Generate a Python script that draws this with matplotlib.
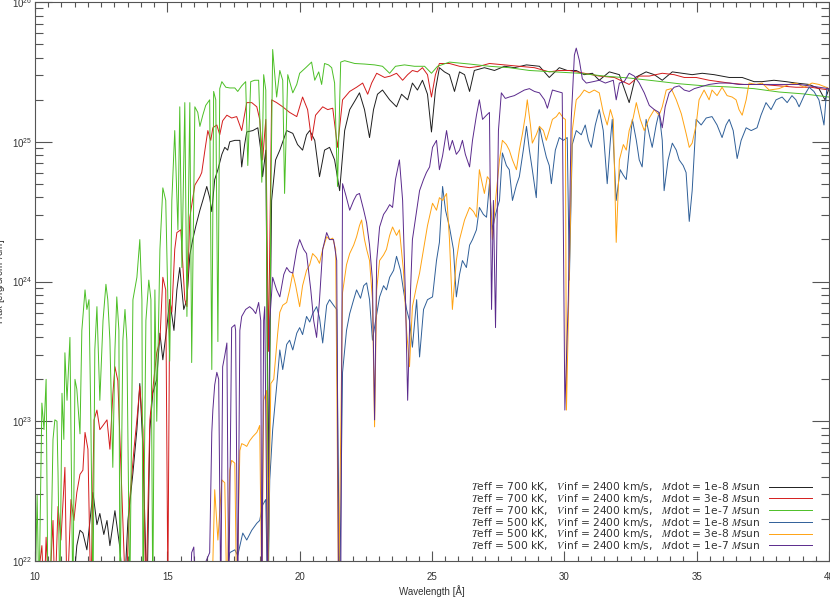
import numpy as np
import matplotlib
matplotlib.use("Agg")
import matplotlib.pyplot as plt
from matplotlib.ticker import MultipleLocator, LogLocator, NullFormatter

# spectra: (wavelength [A], log10 flux)
black_pts = [
    (10.00, 21.70), (11.40, 21.70), (11.58, 22.11), (11.70, 22.22), (11.81, 22.20), (11.96, 22.08),
    (12.19, 22.49), (12.34, 22.26), (12.45, 22.34), (12.60, 22.19), (12.72, 22.29), (12.83, 22.11),
    (13.02, 22.36), (13.21, 22.09), (13.36, 21.70), (13.51, 22.29), (13.70, 22.63), (13.85, 22.94),
    (13.96, 23.27), (14.08, 22.80), (14.23, 21.70), (14.34, 22.94), (14.45, 23.20), (14.60, 23.30),
    (14.72, 23.63), (14.83, 23.44), (14.98, 23.67), (15.09, 23.87), (15.25, 23.65), (15.36, 23.94),
    (15.47, 24.10), (15.62, 23.80), (15.74, 23.87), (15.85, 24.19), (15.96, 24.30), (16.08, 24.40),
    (16.23, 24.51), (16.34, 24.58), (16.49, 24.68), (16.60, 24.60), (16.68, 24.50), (16.79, 24.73),
    (16.91, 24.80), (17.06, 24.91), (17.17, 24.96), (17.28, 24.94), (17.36, 25.00), (17.55, 25.01),
    (17.74, 25.01), (17.81, 24.82), (17.92, 24.98), (18.00, 25.07), (18.23, 25.08), (18.42, 25.10),
    (18.53, 24.94), (18.60, 24.75), (18.72, 24.94), (18.82, 22.60), (18.94, 24.58), (19.09, 24.87),
    (19.25, 24.94), (19.51, 25.08), (19.74, 25.06), (19.92, 24.98), (20.11, 24.94), (20.26, 25.05),
    (20.38, 25.08), (20.57, 25.01), (20.75, 24.75), (20.94, 24.94), (21.13, 24.96), (21.32, 24.87),
    (21.51, 24.65), (21.70, 25.08), (21.89, 25.23), (22.11, 25.30), (22.26, 25.35), (22.45, 25.23),
    (22.64, 25.03), (22.79, 25.23), (22.94, 25.34), (23.13, 25.37), (23.40, 25.30), (23.66, 25.25),
    (23.85, 25.34), (24.08, 25.30), (24.26, 25.42), (24.45, 25.37), (24.64, 25.44), (24.83, 25.34),
    (24.98, 25.07), (25.13, 25.37), (25.28, 25.53), (25.47, 25.50), (25.66, 25.48), (25.85, 25.36),
    (26.04, 25.50), (26.23, 25.48), (26.42, 25.36), (26.60, 25.51), (26.98, 25.53), (27.36, 25.51),
    (27.74, 25.54), (28.11, 25.53), (28.57, 25.55), (29.06, 25.54), (29.43, 25.46), (29.81, 25.53),
    (30.11, 25.51), (30.45, 25.51), (30.75, 25.48), (31.06, 25.49), (31.32, 25.44), (31.70, 25.50),
    (32.08, 25.48), (32.45, 25.28), (32.68, 25.46), (33.09, 25.50), (33.40, 25.48), (33.70, 25.44),
    (34.08, 25.50), (34.45, 25.49), (34.83, 25.48), (35.21, 25.49), (35.66, 25.48), (36.23, 25.46),
    (36.72, 25.46), (37.17, 25.43), (37.47, 25.43), (37.92, 25.44), (38.38, 25.43), (38.75, 25.42),
    (39.25, 25.41), (39.62, 25.38), (39.85, 25.30), (40.00, 25.38),
]

red_pts = [
    (10.00, 21.70), (10.26, 22.11), (10.34, 21.70), (10.42, 22.17), (10.53, 21.70), (10.68, 22.29),
    (10.75, 21.70), (10.87, 22.39), (10.98, 22.15), (11.13, 22.67), (11.21, 21.70), (11.36, 22.44),
    (11.47, 22.29), (11.58, 22.49), (11.70, 22.62), (11.81, 22.65), (11.89, 22.92), (12.00, 22.80),
    (12.11, 21.70), (12.23, 23.01), (12.34, 23.08), (12.45, 22.94), (12.57, 22.97), (12.72, 23.01),
    (12.83, 22.80), (12.94, 23.19), (13.02, 23.39), (13.13, 23.29), (13.21, 22.87), (13.32, 22.31),
    (13.43, 21.70), (13.58, 22.44), (13.74, 22.80), (13.85, 23.01), (13.96, 23.25), (14.08, 22.94),
    (14.19, 21.70), (14.34, 23.01), (14.49, 23.30), (14.60, 23.49), (14.72, 23.58), (14.83, 24.03),
    (14.94, 23.94), (15.02, 21.80), (15.09, 23.87), (15.17, 23.78), (15.28, 24.23), (15.36, 24.35),
    (15.51, 24.37), (15.66, 23.87), (15.74, 23.82), (15.85, 24.46), (16.04, 24.69), (16.23, 24.75),
    (16.30, 24.78), (16.42, 24.94), (16.53, 25.08), (16.64, 25.01), (16.72, 25.10), (16.87, 25.12),
    (16.98, 25.05), (17.09, 25.15), (17.25, 25.19), (17.43, 25.17), (17.62, 25.18), (17.81, 25.08),
    (18.00, 25.28), (18.19, 25.28), (18.38, 25.25), (18.49, 25.16), (18.60, 24.87), (18.72, 25.16),
    (18.82, 23.50), (18.94, 25.30), (19.13, 25.28), (19.36, 25.25), (19.62, 25.21), (19.89, 25.18),
    (20.11, 25.32), (20.30, 25.23), (20.45, 25.01), (20.60, 25.19), (20.87, 25.25), (21.06, 25.23),
    (21.25, 25.24), (21.43, 24.96), (21.62, 25.30), (21.89, 25.36), (22.15, 25.39), (22.38, 25.42),
    (22.57, 25.34), (22.72, 25.42), (22.91, 25.49), (23.21, 25.46), (23.43, 25.47), (23.66, 25.49),
    (23.89, 25.44), (24.08, 25.48), (24.26, 25.51), (24.45, 25.50), (24.64, 25.53), (24.83, 25.48),
    (24.98, 25.32), (25.13, 25.48), (25.28, 25.56), (25.66, 25.56), (26.04, 25.54), (26.42, 25.53),
    (26.79, 25.54), (27.17, 25.56), (27.74, 25.55), (28.30, 25.54), (28.87, 25.53), (29.43, 25.50),
    (29.81, 25.51), (30.19, 25.51), (30.75, 25.49), (31.32, 25.47), (31.89, 25.46), (32.45, 25.41),
    (32.83, 25.47), (33.21, 25.47), (33.70, 25.49), (34.15, 25.48), (34.53, 25.46), (34.98, 25.46),
    (35.47, 25.44), (35.85, 25.43), (36.23, 25.42), (36.79, 25.41), (37.47, 25.41), (38.11, 25.40),
    (38.75, 25.39), (39.32, 25.39), (40.00, 25.37),
]

green_pts = [
    (10.00, 21.70), (10.08, 22.47), (10.15, 21.70), (10.26, 23.13), (10.34, 22.94), (10.42, 23.30),
    (10.49, 21.70), (10.57, 21.70), (10.68, 22.87), (10.75, 23.01), (10.83, 23.00), (10.87, 22.63),
    (10.94, 21.70), (11.02, 23.20), (11.09, 22.87), (11.13, 23.49), (11.21, 23.15), (11.32, 23.60),
    (11.43, 21.70), (11.51, 23.30), (11.58, 23.23), (11.70, 22.91), (11.77, 23.65), (11.89, 23.94),
    (11.96, 23.80), (12.04, 23.87), (12.11, 23.01), (12.19, 21.70), (12.26, 23.51), (12.34, 23.82),
    (12.45, 23.15), (12.57, 23.72), (12.68, 23.98), (12.75, 23.87), (12.83, 23.58), (12.94, 22.67),
    (13.02, 23.51), (13.09, 23.89), (13.17, 23.65), (13.21, 21.70), (13.32, 23.58), (13.40, 23.80),
    (13.47, 23.58), (13.58, 21.70), (13.70, 23.87), (13.85, 24.03), (13.96, 24.30), (14.04, 23.87),
    (14.08, 21.70), (14.19, 23.72), (14.30, 24.01), (14.38, 23.87), (14.45, 21.70), (14.53, 23.94),
    (14.60, 23.00), (14.72, 24.23), (14.83, 24.67), (14.94, 24.58), (15.02, 23.87), (15.09, 23.43),
    (15.17, 24.58), (15.28, 25.08), (15.40, 24.37), (15.47, 25.25), (15.55, 24.10), (15.66, 25.28),
    (15.74, 23.75), (15.85, 25.28), (15.92, 23.42), (16.04, 25.25), (16.15, 25.21), (16.23, 25.11),
    (16.34, 25.19), (16.45, 25.26), (16.60, 25.30), (16.68, 23.37), (16.75, 25.36), (16.83, 25.30),
    (16.91, 23.57), (16.98, 25.38), (17.06, 25.43), (17.21, 25.39), (17.36, 25.385), (17.55, 25.385),
    (17.66, 25.36), (17.81, 25.40), (17.96, 25.43), (18.04, 24.83), (18.15, 25.43), (18.30, 25.44),
    (18.45, 25.44), (18.57, 24.71), (18.64, 25.48), (18.72, 25.37), (18.82, 21.70), (18.91, 24.58),
    (18.98, 25.66), (19.13, 25.32), (19.25, 25.51), (19.36, 25.44), (19.43, 24.63), (19.55, 25.48),
    (19.74, 25.35), (19.89, 25.41), (20.00, 25.49), (20.23, 25.53), (20.45, 25.57), (20.57, 25.44),
    (20.72, 25.50), (20.83, 25.41), (20.94, 25.56), (21.09, 25.55), (21.21, 25.53), (21.32, 25.42),
    (21.43, 24.68), (21.55, 25.57), (21.70, 25.58), (22.08, 25.56), (22.45, 25.556), (22.83, 25.55),
    (23.13, 25.54), (23.40, 25.49), (23.62, 25.54), (23.96, 25.55), (24.34, 25.54), (24.72, 25.54),
    (24.98, 25.49), (25.21, 25.54), (25.66, 25.57), (26.42, 25.556), (27.17, 25.54), (27.92, 25.53),
    (28.68, 25.51), (29.62, 25.50), (30.57, 25.49), (31.51, 25.47), (32.45, 25.456), (33.40, 25.436),
    (34.34, 25.415), (35.28, 25.40), (36.23, 25.392), (37.17, 25.38), (38.11, 25.356), (39.06, 25.342),
    (40.00, 25.32),
]

blue_pts = [
    (15.50, 21.70), (17.06, 21.70), (17.36, 22.06), (17.55, 22.08), (17.66, 22.04), (17.85, 22.20),
    (18.00, 22.15), (18.19, 22.22), (18.38, 22.27), (18.49, 22.29), (18.60, 22.40), (18.72, 22.44),
    (18.79, 21.70), (18.87, 22.58), (18.98, 22.94), (19.13, 23.25), (19.25, 23.51), (19.36, 23.37),
    (19.51, 23.55), (19.62, 23.58), (19.74, 23.51), (19.89, 23.63), (20.00, 23.67), (20.11, 23.62),
    (20.26, 23.75), (20.38, 23.71), (20.49, 23.77), (20.64, 23.82), (20.75, 23.74), (20.87, 23.56),
    (21.02, 23.83), (21.13, 23.87), (21.28, 23.83), (21.40, 23.80), (21.51, 21.70), (21.62, 23.35),
    (21.77, 23.65), (21.89, 23.77), (22.04, 23.87), (22.15, 23.94), (22.30, 23.88), (22.42, 23.97),
    (22.53, 23.99), (22.64, 23.87), (22.75, 23.58), (22.87, 23.72), (23.02, 23.89), (23.17, 23.97),
    (23.28, 23.94), (23.40, 24.03), (23.55, 24.08), (23.66, 24.18), (23.81, 24.08), (23.92, 23.94),
    (24.04, 23.80), (24.15, 23.72), (24.26, 23.53), (24.42, 23.87), (24.53, 23.46), (24.68, 23.80),
    (24.83, 23.87), (25.02, 23.89), (25.17, 24.15), (25.28, 24.28), (25.40, 24.68), (25.51, 24.51),
    (25.66, 24.39), (25.81, 24.23), (25.92, 23.89), (26.04, 24.05), (26.15, 24.15), (26.30, 24.10),
    (26.42, 24.26), (26.53, 24.30), (26.68, 24.37), (26.79, 24.53), (26.94, 24.48), (27.06, 24.46),
    (27.17, 24.70), (27.28, 24.37), (27.40, 24.48), (27.55, 24.58), (27.66, 24.92), (27.81, 24.83),
    (27.92, 24.80), (28.04, 24.58), (28.19, 24.69), (28.30, 24.75), (28.45, 24.94), (28.57, 25.11),
    (28.68, 24.94), (28.79, 24.80), (28.94, 24.60), (29.06, 25.11), (29.17, 25.01), (29.32, 24.89),
    (29.43, 24.83), (29.51, 24.70), (29.66, 24.94), (29.81, 25.03), (29.96, 25.01), (30.11, 25.03),
    (30.19, 24.01), (30.30, 24.98), (30.45, 25.08), (30.64, 25.05), (30.79, 25.12), (30.91, 25.01),
    (31.02, 24.96), (31.17, 25.12), (31.32, 25.23), (31.47, 25.08), (31.62, 24.70), (31.74, 25.01),
    (31.81, 25.16), (31.96, 24.58), (32.11, 24.80), (32.23, 24.76), (32.34, 24.73), (32.45, 24.94),
    (32.57, 25.16), (32.72, 25.01), (32.83, 24.87), (32.94, 24.82), (33.09, 25.16), (33.21, 25.05),
    (33.32, 24.96), (33.47, 25.12), (33.58, 25.21), (33.70, 25.01), (33.77, 24.65), (33.92, 24.87),
    (34.08, 24.99), (34.23, 24.94), (34.34, 24.87), (34.49, 24.83), (34.60, 24.78), (34.72, 24.43),
    (34.83, 24.65), (34.98, 25.16), (35.17, 25.12), (35.36, 25.17), (35.58, 25.18), (35.77, 25.12),
    (35.96, 25.03), (36.11, 25.12), (36.23, 25.16), (36.38, 25.08), (36.53, 24.88), (36.68, 25.01),
    (36.87, 25.10), (37.06, 25.08), (37.28, 25.10), (37.43, 25.19), (37.62, 25.28), (37.81, 25.23),
    (38.00, 25.30), (38.23, 25.32), (38.42, 25.28), (38.60, 25.33), (38.75, 25.30), (38.87, 25.25),
    (39.06, 25.33), (39.25, 25.39), (39.43, 25.36), (39.62, 25.30), (39.81, 25.12), (39.92, 25.39),
    (40.00, 25.37),
]

orange_pts = [
    (15.50, 21.70), (16.68, 21.70), (16.79, 22.51), (16.91, 22.15), (17.06, 22.58), (17.17, 22.56),
    (17.25, 21.70), (17.36, 22.65), (17.43, 22.72), (17.55, 22.70), (17.62, 21.70), (17.74, 22.79),
    (17.81, 22.84), (17.92, 22.83), (18.00, 22.82), (18.11, 22.86), (18.23, 22.89), (18.38, 22.92),
    (18.45, 22.95), (18.49, 22.97), (18.57, 21.70), (18.64, 23.15), (18.75, 23.22), (18.79, 21.70),
    (18.91, 23.27), (19.02, 23.30), (19.17, 23.63), (19.25, 23.78), (19.36, 23.83), (19.51, 23.85),
    (19.62, 23.94), (19.74, 24.06), (19.85, 23.97), (20.00, 23.82), (20.11, 23.97), (20.26, 24.08),
    (20.38, 24.12), (20.49, 24.20), (20.64, 24.17), (20.75, 24.13), (20.87, 24.23), (21.02, 24.32),
    (21.13, 24.30), (21.25, 24.31), (21.36, 24.23), (21.47, 21.70), (21.62, 23.92), (21.77, 24.12),
    (21.89, 24.20), (22.04, 24.26), (22.15, 24.32), (22.26, 24.40), (22.34, 24.44), (22.45, 24.30),
    (22.53, 24.23), (22.64, 24.15), (22.75, 23.87), (22.83, 22.96), (22.91, 23.94), (23.02, 24.15),
    (23.17, 24.19), (23.28, 24.23), (23.40, 24.33), (23.51, 24.39), (23.66, 24.33), (23.77, 24.37),
    (23.92, 24.08), (24.04, 23.65), (24.15, 23.39), (24.26, 23.82), (24.42, 23.97), (24.53, 24.06),
    (24.68, 24.23), (24.83, 24.40), (25.02, 24.56), (25.17, 24.51), (25.28, 24.60), (25.40, 24.58),
    (25.55, 24.63), (25.66, 24.30), (25.77, 23.80), (25.92, 24.15), (26.04, 24.30), (26.23, 24.44),
    (26.42, 24.53), (26.57, 24.50), (26.68, 24.46), (26.79, 24.80), (26.91, 24.69), (26.98, 24.63),
    (27.09, 24.75), (27.17, 24.73), (27.28, 24.30), (27.40, 24.58), (27.55, 24.87), (27.66, 25.01),
    (27.81, 24.98), (27.92, 24.94), (28.04, 24.87), (28.19, 24.80), (28.30, 24.94), (28.42, 25.06),
    (28.53, 25.19), (28.60, 25.30), (28.72, 25.12), (28.79, 24.99), (28.94, 25.05), (29.06, 25.11),
    (29.21, 25.08), (29.32, 25.01), (29.43, 25.08), (29.55, 25.16), (29.70, 25.18), (29.81, 25.21),
    (29.96, 25.17), (30.04, 25.16), (30.08, 23.08), (30.30, 25.08), (30.45, 25.30), (30.60, 25.33),
    (30.75, 25.37), (30.94, 25.35), (31.13, 25.37), (31.32, 25.35), (31.47, 25.21), (31.62, 25.12),
    (31.74, 25.23), (31.85, 25.16), (31.96, 24.28), (32.08, 24.87), (32.23, 24.98), (32.34, 24.94),
    (32.45, 25.08), (32.60, 25.17), (32.72, 25.28), (32.87, 25.16), (33.02, 25.08), (33.21, 25.17),
    (33.40, 25.23), (33.58, 25.19), (33.70, 25.25), (33.85, 25.37), (34.04, 25.38), (34.23, 25.30),
    (34.42, 25.20), (34.60, 25.06), (34.72, 24.96), (34.83, 24.99), (34.98, 25.12), (35.09, 25.30),
    (35.28, 25.37), (35.47, 25.30), (35.58, 25.37), (35.77, 25.33), (35.96, 25.39), (36.15, 25.33),
    (36.34, 25.32), (36.49, 25.30), (36.60, 25.23), (36.72, 25.19), (36.87, 25.30), (36.98, 25.42),
    (37.25, 25.41), (37.47, 25.42), (37.74, 25.37), (38.11, 25.38), (38.49, 25.41), (38.75, 25.42),
    (39.06, 25.39), (39.36, 25.42), (39.62, 25.41), (39.89, 25.39), (40.00, 25.38),
]

purple_pts = [
    (15.50, 21.70), (15.85, 21.70), (15.92, 22.06), (16.00, 22.10), (16.08, 21.70), (16.42, 21.98),
    (16.60, 22.06), (16.68, 22.92), (16.72, 23.08), (16.79, 23.26), (16.87, 23.35), (16.94, 23.30),
    (17.02, 21.70), (17.09, 23.39), (17.17, 23.47), (17.25, 23.56), (17.32, 21.70), (17.43, 23.67),
    (17.55, 23.69), (17.58, 23.65), (17.66, 21.70), (17.74, 23.65), (17.81, 23.75), (17.96, 23.80),
    (18.11, 23.82), (18.23, 23.80), (18.34, 23.77), (18.45, 23.85), (18.53, 23.72), (18.57, 21.70),
    (18.64, 23.72), (18.68, 23.82), (18.79, 21.70), (18.87, 23.72), (18.98, 24.03), (19.13, 23.94),
    (19.25, 23.89), (19.40, 24.05), (19.51, 24.10), (19.62, 24.07), (19.74, 24.06), (19.89, 24.23),
    (20.00, 24.30), (20.15, 24.23), (20.26, 24.20), (20.42, 23.94), (20.53, 23.72), (20.64, 23.60),
    (20.75, 23.87), (20.87, 24.23), (21.02, 24.35), (21.13, 24.30), (21.28, 24.30), (21.40, 24.15),
    (21.47, 21.70), (21.55, 21.70), (21.62, 24.70), (21.74, 24.62), (21.89, 24.51), (22.04, 24.58),
    (22.15, 24.62), (22.26, 24.63), (22.42, 24.51), (22.53, 24.42), (22.64, 24.26), (22.75, 24.01),
    (22.83, 23.01), (22.91, 24.15), (23.02, 24.39), (23.17, 24.48), (23.28, 24.51), (23.40, 24.55),
    (23.51, 24.53), (23.62, 24.73), (23.77, 24.87), (23.89, 24.58), (24.00, 23.87), (24.08, 23.15),
    (24.19, 23.94), (24.26, 24.30), (24.42, 24.51), (24.53, 24.65), (24.68, 24.73), (24.79, 24.78),
    (24.91, 24.82), (25.02, 24.96), (25.17, 25.01), (25.28, 24.80), (25.40, 24.90), (25.55, 25.08),
    (25.66, 24.94), (25.77, 25.01), (25.92, 24.91), (26.04, 24.94), (26.15, 25.01), (26.26, 24.91),
    (26.42, 24.82), (26.53, 25.01), (26.68, 25.19), (26.79, 25.30), (26.91, 25.16), (27.06, 25.19),
    (27.17, 25.21), (27.25, 23.80), (27.32, 24.58), (27.40, 23.67), (27.51, 25.08), (27.62, 25.35),
    (27.77, 25.31), (27.92, 25.32), (28.11, 25.33), (28.30, 25.35), (28.49, 25.37), (28.68, 25.38),
    (28.87, 25.36), (29.06, 25.35), (29.25, 25.30), (29.36, 25.24), (29.55, 25.37), (29.74, 25.36),
    (29.92, 25.35), (30.02, 23.08), (30.15, 23.87), (30.26, 25.16), (30.38, 25.62), (30.45, 25.67),
    (30.57, 25.58), (30.68, 25.45), (30.83, 25.42), (31.09, 25.43), (31.32, 25.44), (31.55, 25.42),
    (31.85, 25.44), (31.96, 25.30), (32.08, 25.42), (32.26, 25.43), (32.45, 25.49), (32.64, 25.47),
    (32.83, 25.42), (33.02, 25.35), (33.21, 25.26), (33.40, 25.23), (33.58, 25.21), (33.70, 25.10),
    (33.81, 25.25), (33.96, 25.35), (34.15, 25.39), (34.34, 25.40), (34.53, 25.37), (34.72, 25.36),
    (34.91, 25.38), (35.09, 25.39), (35.47, 25.41), (35.85, 25.42), (36.23, 25.42), (36.60, 25.41),
    (36.98, 25.41), (37.36, 25.41), (37.74, 25.41), (38.11, 25.41), (38.49, 25.41), (38.87, 25.41),
    (39.25, 25.40), (39.62, 25.39), (40.00, 25.38),
]

teff_kk = [700, 700, 700, 500, 500, 500]
vinf_kms = [2400, 2400, 2400, 2400, 2400, 2400]
mdot_msun = ["1e-8", "3e-8", "1e-7", "1e-8", "3e-8", "1e-7"]
colors = ["#1e1e1e", "#d41c1c", "#4cbf26", "#2f5f98", "#ffa312", "#5a2a8c"]

plt.rcParams["font.family"] = ["Liberation Sans", "DejaVu Sans"]
plt.rcParams["mathtext.fontset"] = "stix"

fig = plt.figure(figsize=(8.30, 5.99), dpi=100)
ax = fig.add_axes([35 / 830, 38 / 599, 794 / 830, 559 / 599])

all_pts = [black_pts, red_pts, green_pts, blue_pts, orange_pts, purple_pts]
for pts, col, t, v, m in zip(all_pts, colors, teff_kk, vinf_kms, mdot_msun):
    arr = np.array(pts)
    lab = f"$T$eff = {t} kK,   $V$inf = {v} km/s,   $M$dot = {m} $M$sun"
    ax.plot(arr[:, 0], 10 ** arr[:, 1], color=col, lw=0.7, label=lab)

ax.set_yscale("log")
ax.set_xlim(10, 40)
ax.set_ylim(1e22, 1e26)

ax.xaxis.set_major_locator(MultipleLocator(5))
ax.xaxis.set_minor_locator(MultipleLocator(0.5))
ax.yaxis.set_major_locator(LogLocator(base=10))
ax.yaxis.set_minor_locator(LogLocator(base=10, subs=np.arange(2, 10)))
ax.yaxis.set_minor_formatter(NullFormatter())

ax.tick_params(which="both", direction="in", top=True, right=True,
               color="#555555", labelcolor="#333333", labelsize=7, width=0.8)
ax.tick_params(axis="x", which="major", length=7, pad=8)
ax.tick_params(axis="x", which="minor", length=3.5)
ax.tick_params(axis="y", which="major", length=12, pad=2)
ax.tick_params(axis="y", which="minor", length=6)
for sp in ax.spines.values():
    sp.set_color("#555555")
    sp.set_linewidth(0.8)

ax.set_xlabel("Wavelength [Å]", fontsize=7, color="#333333", labelpad=2)
ax.set_ylabel("Flux [erg/s/cm$^2$/cm]", fontsize=7, color="#333333")
ax.yaxis.set_label_coords(-0.034, 0.5)

leg = ax.legend(loc="lower right", bbox_to_anchor=(1 - 17 / 794, 9 / 559),
                frameon=False, markerfirst=False, handlelength=4.0,
                handletextpad=0.85, labelspacing=-0.12, borderaxespad=0, borderpad=0,
                prop={"family": "DejaVu Sans", "size": 7.7})
for txt in leg.get_texts():
    txt.set_color("#333333")

fig.savefig("out.png", dpi=100)
